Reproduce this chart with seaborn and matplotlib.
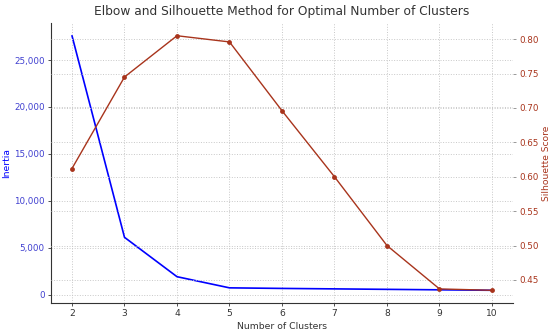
import numpy as np
import pandas as pd
import seaborn as sns
import matplotlib.pyplot as plt

# data
clusters = [2, 3, 4, 5, 6, 7, 8, 9, 10]
inertia = [27600, 6100, 1900, 710, 650, 600, 550, 500, 450]
silhouette = [0.612, 0.745, 0.805, 0.796, 0.696, 0.600, 0.500, 0.437, 0.435]

df = pd.DataFrame({'k': clusters, 'inertia': inertia, 'silhouette': silhouette})

sns.set_style('whitegrid', {'grid.color': '#c8c8c8', 'grid.linestyle': ':',
                            'axes.edgecolor': '#333333', 'xtick.bottom': True,
                            'ytick.left': True})
plt.rcParams['font.family'] = ['DejaVu Sans']

blue = 'blue'
red = '#a8341c'

fig = plt.figure(figsize=(5.5, 3.32), dpi=100)
ax1 = fig.add_axes([0.0927, 0.0873, 0.84, 0.8434])

sns.lineplot(data=df, x='k', y='inertia', ax=ax1, color=blue, linewidth=1.2)
ax1.set_xlabel('Number of Clusters', fontsize=6.7, color='#333333', labelpad=3)
ax1.set_ylabel('Inertia', fontsize=6.7, color=blue, labelpad=2)
ax1.tick_params(axis='y', labelcolor='#4040d0', labelsize=6.3, length=2.5,
                width=0.6, color='#333333', pad=2)
ax1.tick_params(axis='x', labelcolor='#333333', labelsize=6.6, length=2.5,
                width=0.6, color='#333333', pad=2)
ax1.yaxis.set_major_formatter(plt.FuncFormatter(lambda v, p: f'{int(v):,}'))
ax1.set_xticks(clusters)
ax1.grid(True, linewidth=0.7)
for s in ['top', 'right']:
    ax1.spines[s].set_visible(False)
ax1.spines['left'].set_linewidth(0.8)
ax1.spines['bottom'].set_linewidth(0.8)

ax2 = ax1.twinx()
sns.lineplot(data=df, x='k', y='silhouette', ax=ax2, color=red, linewidth=1.0,
             marker='o', markersize=3.5, markeredgewidth=0)
ax2.set_ylabel('Silhouette Score', fontsize=6.6, color=red, labelpad=2)
ax2.tick_params(axis='y', labelcolor=red, labelsize=6.3, length=2.5,
                width=0.6, color='#888888', pad=2)
ax2.grid(True, linewidth=0.7)
for s in ['top', 'right', 'left', 'bottom']:
    ax2.spines[s].set_visible(False)

ax1.set_title('Elbow and Silhouette Method for Optimal Number of Clusters',
              fontsize=8.8, color='#333333', pad=6)

fig.savefig('out.png', dpi=100)
